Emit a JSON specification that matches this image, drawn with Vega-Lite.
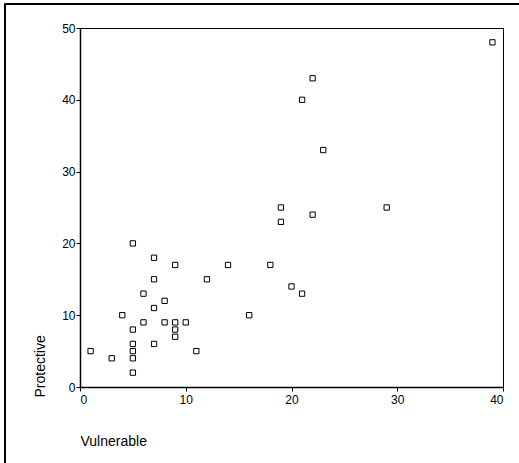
{
  "$schema": "https://vega.github.io/schema/vega-lite/v6.json",
  "width": 423,
  "height": 359,
  "autosize": "none",
  "padding": {"left": 80, "top": 28, "right": 16, "bottom": 76},
  "background": "white",
  "config": {
    "view": {"stroke": "black", "strokeWidth": 1},
    "font": "Liberation Sans",
    "axis": {"grid": false, "domainColor": "black", "domainWidth": 1.5, "tickColor": "black", "tickSize": 4, "labelColor": "black", "labelFontSize": 12, "labelFont": "Liberation Sans", "titleFont": "Liberation Sans", "titleFontSize": 14, "titleFontWeight": "normal", "titleColor": "black"}
  },
  "data": {"values": [
    {"Vulnerable": 1, "Protective": 5},
    {"Vulnerable": 3, "Protective": 4},
    {"Vulnerable": 4, "Protective": 10},
    {"Vulnerable": 5, "Protective": 20},
    {"Vulnerable": 5, "Protective": 8},
    {"Vulnerable": 5, "Protective": 6},
    {"Vulnerable": 5, "Protective": 5},
    {"Vulnerable": 5, "Protective": 4},
    {"Vulnerable": 5, "Protective": 2},
    {"Vulnerable": 6, "Protective": 13},
    {"Vulnerable": 6, "Protective": 9},
    {"Vulnerable": 7, "Protective": 18},
    {"Vulnerable": 7, "Protective": 15},
    {"Vulnerable": 7, "Protective": 11},
    {"Vulnerable": 7, "Protective": 6},
    {"Vulnerable": 8, "Protective": 12},
    {"Vulnerable": 8, "Protective": 9},
    {"Vulnerable": 9, "Protective": 17},
    {"Vulnerable": 9, "Protective": 9},
    {"Vulnerable": 9, "Protective": 8},
    {"Vulnerable": 9, "Protective": 7},
    {"Vulnerable": 10, "Protective": 9},
    {"Vulnerable": 11, "Protective": 5},
    {"Vulnerable": 12, "Protective": 15},
    {"Vulnerable": 14, "Protective": 17},
    {"Vulnerable": 16, "Protective": 10},
    {"Vulnerable": 18, "Protective": 17},
    {"Vulnerable": 19, "Protective": 25},
    {"Vulnerable": 19, "Protective": 23},
    {"Vulnerable": 20, "Protective": 14},
    {"Vulnerable": 21, "Protective": 40},
    {"Vulnerable": 21, "Protective": 13},
    {"Vulnerable": 22, "Protective": 43},
    {"Vulnerable": 22, "Protective": 24},
    {"Vulnerable": 23, "Protective": 33},
    {"Vulnerable": 29, "Protective": 25},
    {"Vulnerable": 39, "Protective": 48}
  ]},
  "layer": [
    {
      "mark": {"type": "rule", "clip": false, "stroke": "black", "strokeWidth": 1},
      "encoding": {
        "x": {"datum": -7.09, "type": "quantitative", "scale": {"domain": [0, 40], "nice": false, "zero": false}},
        "y": {"datum": 53.35, "type": "quantitative", "scale": {"domain": [0, 50], "nice": false, "zero": false}},
        "y2": {"datum": -10.5}
      }
    },
    {
      "mark": {"type": "rule", "clip": false, "stroke": "black", "strokeWidth": 1},
      "encoding": {
        "x": {"datum": -7.09, "type": "quantitative"},
        "x2": {"datum": 41.5},
        "y": {"datum": 53.35, "type": "quantitative"}
      }
    },
    {
      "mark": {"type": "point", "shape": "square", "filled": false, "stroke": "black", "strokeWidth": 1, "size": 28, "opacity": 1},
      "encoding": {
        "x": {"field": "Vulnerable", "type": "quantitative",
          "scale": {"domain": [0, 40], "nice": false, "zero": false},
          "axis": {"values": [0, 10, 20, 30, 40], "title": "Vulnerable", "titleAnchor": "start", "titleAlign": "left", "titleX": 0, "titleY": 54, "titleBaseline": "middle", "labelPadding": 3}},
        "y": {"field": "Protective", "type": "quantitative",
          "scale": {"domain": [0, 50], "nice": false, "zero": false},
          "axis": {"values": [0, 10, 20, 30, 40, 50], "title": "Protective", "titleAngle": -90, "titleAlign": "left", "titleBaseline": "middle", "titleX": -40, "titleY": 369, "labelPadding": 1}}
      }
    }
  ]
}
